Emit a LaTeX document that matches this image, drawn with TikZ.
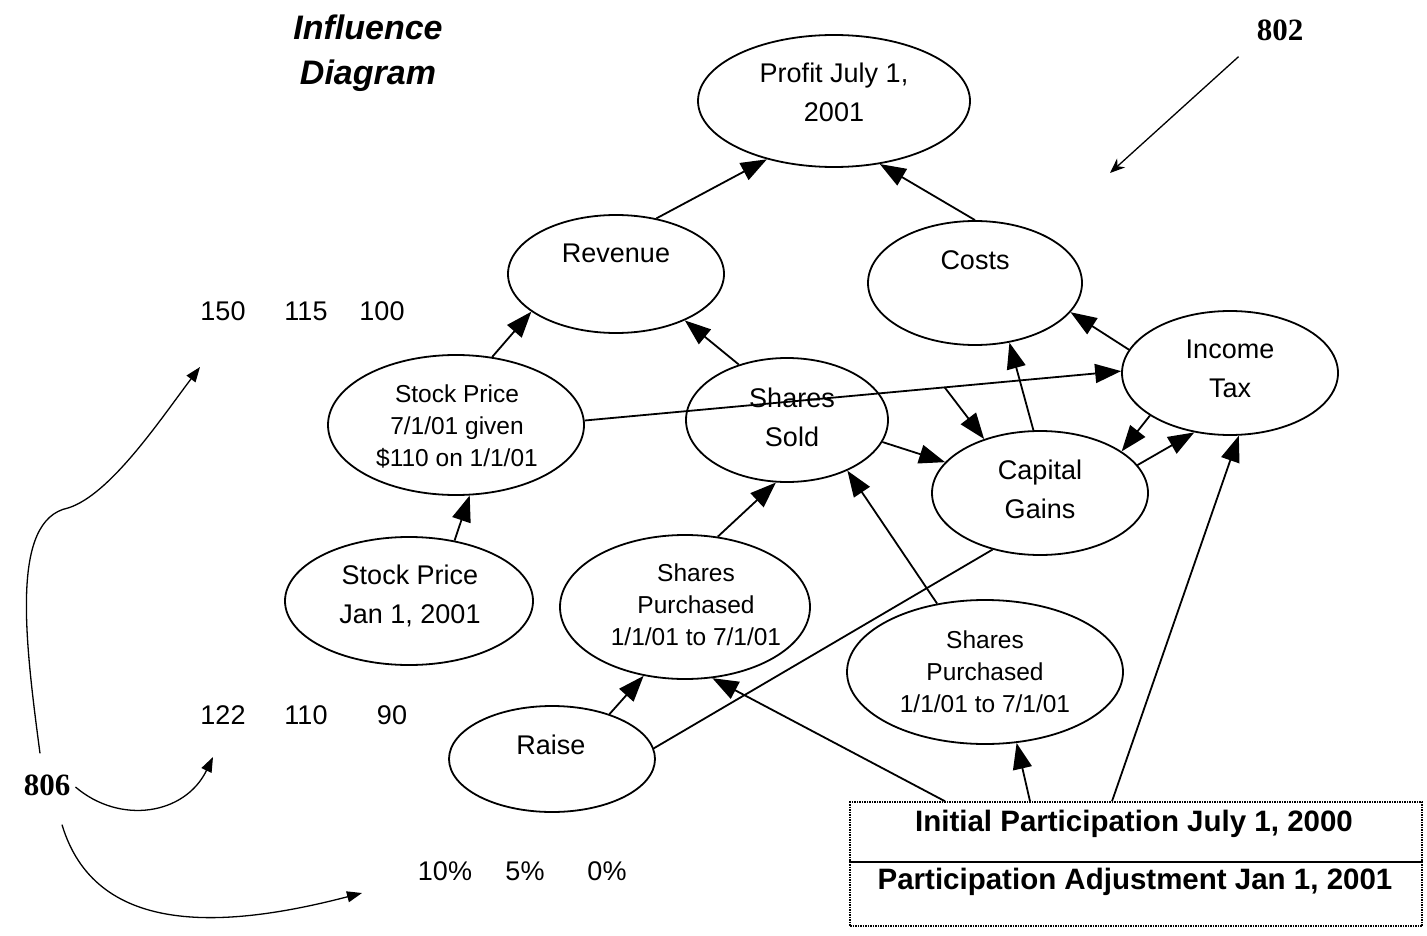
\documentclass[tikz,border=0pt]{standalone}
\usepackage{fontspec}
\setmainfont{Liberation Sans}
\newfontfamily\serifbold{Liberation Serif}
\usetikzlibrary{arrows.meta,shapes.geometric,calc}
\begin{document}
\begin{tikzpicture}[x=1pt,y=-1pt,
  ell/.style={draw, ellipse, line width=1.8pt, inner sep=0pt},
  lbl/.style={align=center, font=\fontsize{27}{39}\selectfont, inner sep=0pt},
  lbls/.style={align=center, font=\fontsize{24.5}{32}\selectfont, inner sep=0pt},
  num/.style={font=\fontsize{27}{30}\selectfont, inner sep=0pt},
  ref/.style={font=\serifbold\bfseries\fontsize{31}{34}\selectfont, inner sep=0pt},
  boxtxt/.style={font=\bfseries\fontsize{29.5}{32}\selectfont, inner sep=0pt},
  con/.style={line width=1.8pt, -{Triangle[length=26pt,width=19pt]}},
  plain/.style={line width=1.8pt},
  curvearrow/.style={line width=1.3pt, -{Triangle[length=15pt,width=11pt]}},
  thinarrow/.style={line width=1.3pt, -{Stealth[length=15pt,width=12pt]}}]
\useasboundingbox (0,0) rectangle (1427,936);

% title
\node[align=center, inner sep=0pt, font=\bfseries\itshape\fontsize{34}{45}\selectfont] (title) at (368,53) {Influence\\Diagram};

% ellipses
\node[ell, minimum width=272pt, minimum height=132pt] (profit) at (834,101) {};
\node[ell, minimum width=216pt, minimum height=118pt] (rev) at (616,274) {};
\node[ell, minimum width=214pt, minimum height=124pt] (costs) at (975,283) {};
\node[ell, minimum width=216pt, minimum height=124pt] (itax) at (1230,373) {};
\node[ell, minimum width=256pt, minimum height=140pt] (sp7) at (456,425) {};
\node[ell, minimum width=202pt, minimum height=124pt] (sold) at (787,420) {};
\node[ell, minimum width=216pt, minimum height=124pt] (cg) at (1040,493) {};
\node[ell, minimum width=248pt, minimum height=128pt] (spj) at (409,601) {};
\node[ell, minimum width=250pt, minimum height=144pt] (sp1) at (685,607) {};
\node[ell, minimum width=276pt, minimum height=144pt] (sp2) at (985,672) {};
\node[ell, minimum width=206pt, minimum height=106pt] (raise) at (552,759) {};

% ellipse texts
\node[lbl] (profit-t) at (834,92) {Profit July 1,\\2001};
\node[lbl] (rev-t) at (616,253) {Revenue};
\node[lbl] (costs-t) at (975,260) {Costs};
\node[lbl] (itax-t) at (1230,369) {Income\\Tax};
\node[lbls] (sp7-t) at (457,426) {Stock Price\\7/1/01 given\\\$110 on 1/1/01};
\node[lbl] (sold-t) at (792,417) {Shares\\Sold};
\node[lbl] (cg-t) at (1040,489) {Capital\\Gains};
\node[lbl] (spj-t) at (410,596) {Stock Price\\Jan 1, 2001};
\node[lbls] (sp1-t) at (696,605) {Shares\\Purchased\\1/1/01 to 7/1/01};
\node[lbls] (sp2-t) at (985,672) {Shares\\Purchased\\1/1/01 to 7/1/01};
\node[lbl] (raise-t) at (551,745) {Raise};

% participation box
\node[draw, densely dotted, line width=1.5pt, minimum width=572pt, minimum height=124pt, inner sep=0pt] (box) at (1136,864) {};
\draw[line width=1.5pt] ($(box.north west)!0.484!(box.south west)$) -- ($(box.north east)!0.484!(box.south east)$);
\node[boxtxt] (init) at (1134,824) {Initial Participation July 1, 2000};
\node[boxtxt] (adj) at (1135,882) {Participation Adjustment Jan 1, 2001};

% numbers
\node[num] (n150) at (223,311) {150};
\node[num] (n115) at (306,311) {115};
\node[num] (n100) at (382,311) {100};
\node[num] (n122) at (223,715) {122};
\node[num] (n110) at (306,715) {110};
\node[num] (n90) at (392,715) {90};
\node[num] (p10) at (445,871) {10\%};
\node[num] (p5) at (525,871) {5\%};
\node[num] (p0) at (607,871) {0\%};

% reference numerals
\node[ref] (n802) at (1280,30) {802};
\node[ref] (n806) at (47,785) {806};
\coordinate (a802) at (1110,173);
\coordinate (e150) at (200,367);
\coordinate (e122) at (213,757);
\coordinate (e10) at (362,893);

% connectors
\draw[con] (rev.54.6) -- (profit.221.2);
\draw[con] (costs.90) -- (profit.306.6);
\draw[con] (sp7.62.1) -- (rev.204);
\draw[con] (sold.131.7) -- (rev.326.5);
\draw[con] (sp7.2.2) -- coordinate[pos=0.671] (br) (itax.179.5);
\draw[con] (itax.167.5) -- (costs.343.3);
\draw[con] (cg.96.5) -- (costs.300.7);
\draw[con] (br) -- (cg.136);
\draw[con] (sold.347.2) -- (cg.162.8);
\draw[con] (itax.208) -- (cg.27.9);
\draw[con] (cg.16.1) -- (itax.239.3);
\draw[con] ([xshift=-24pt]box.north) -- (itax.278);
\draw[con] ([xshift=-106pt]box.north) -- (sp2.294.3);
\draw[con] ([xshift=-191pt]box.north) -- (sp1.291.4);
\draw[con] (sp2.125.8) -- (sold.320);
\draw[con] (sp1.65) -- (sold.260);
\draw[con] (raise.38.8) -- (sp1.239.5);
\draw[plain] (raise.6.3) -- (cg.230.5);
\draw[con] (spj.53) -- (sp7.281);

% reference arrows
\draw[thinarrow] ([shift={(-18pt,-16pt)}]n802.south west) -- (a802);
\draw[curvearrow] ([shift={(-7pt,21pt)}]n806.north) .. controls (25,640) and (10,520) .. (68,508)
   .. controls (110,495) and (160,420) .. (e150);
\draw[curvearrow] ([shift={(5pt,-2pt)}]n806.east) .. controls (120,825) and (185,815) .. (e122);
\draw[curvearrow] ([shift={(15pt,-29pt)}]n806.south) .. controls (95,935) and (220,930) .. (e10);
\end{tikzpicture}
\end{document}
